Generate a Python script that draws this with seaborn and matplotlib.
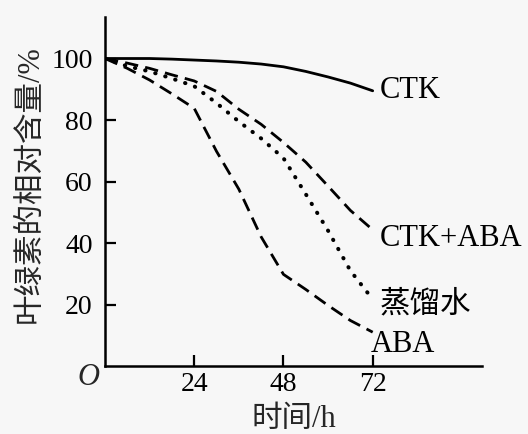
import numpy as np
import pandas as pd
import matplotlib
matplotlib.use("Agg")
import matplotlib.pyplot as plt
import seaborn as sns

time_h = [0, 6, 12, 18, 24, 30, 36, 42, 48, 54, 60, 66, 72]
ctk = [100, 100, 100, 99.8, 99.5, 99.2, 98.8, 98.2, 97.3, 95.8, 94, 92, 89.5]
ctk_aba = [100, 98.5, 96.8, 94.7, 92.7, 89.3, 83.5, 78.6, 72.7, 66.3, 58.5, 50.6, 44.3]
water = [100, 97.5, 95.8, 93.5, 91, 85.5, 79.5, 74, 67.6, 55.9, 44, 31, 21.7]
aba = [100, 96.8, 93, 88.5, 83.8, 69.8, 57.5, 42, 29.8, 24.9, 19.7, 14.8, 11]
series_names = ["CTK", "CTK+ABA", "蒸馏水", "ABA"]
x_ticks = [24, 48, 72]
y_ticks = [20, 40, 60, 80, 100]

sns.set_style("ticks")
plt.rcParams["font.family"] = ["Liberation Serif", "Noto Sans CJK SC", "DejaVu Sans"]

bg = "#f7f7f7"
fig = plt.figure(figsize=(5.28, 4.34), dpi=100, facecolor=bg)
ax = fig.add_axes([105 / 528, 1 - 366 / 434, (482 - 105) / 528, (366 - 17) / 434])
ax.set_facecolor(bg)

styles = {
    "CTK": dict(linestyle="-", lw=2.0),
    "CTK+ABA": dict(linestyle=(0, (4.8, 2.6)), lw=2.0),
    "蒸馏水": dict(linestyle=(0, (0.1, 2.5)), lw=2.9, dash_capstyle="round"),
    "ABA": dict(linestyle=(0, (4.8, 2.6)), lw=2.0),
}
for name, vals in zip(series_names, [ctk, ctk_aba, water, aba]):
    sns.lineplot(x=time_h, y=vals, ax=ax, color="black", **styles[name])

ax.set_xlim(0, 101.4)
ax.set_ylim(0, 113.5)
for s in ["top", "right"]:
    ax.spines[s].set_visible(False)
for s in ["left", "bottom"]:
    ax.spines[s].set_linewidth(1.8)
    ax.spines[s].set_color("black")

ax.set_xticks(x_ticks)
ax.set_yticks(y_ticks)
ax.set_xticklabels([str(t) for t in x_ticks])
ax.set_yticklabels([str(t) for t in y_ticks])
ax.tick_params(axis="both", direction="in", length=8, width=1.6, labelsize=20, colors="black")
ax.tick_params(axis="y", pad=9)
ax.tick_params(axis="x", pad=4)

ax.set_xlabel("时间/h", fontsize=22, labelpad=6)
ax.set_ylabel("叶绿素的相对含量/%", fontsize=22)
ax.yaxis.set_label_coords(-0.16, 0.52)

ax.text(-4.5, -3.8, "O", fontsize=22, style="italic", ha="center", va="center")

label_kw = dict(fontsize=22, ha="left", va="center", color="black")
ax.text(74, 89.5, "CTK", **label_kw)
ax.text(74, 41.5, "CTK+ABA", **label_kw)
ax.text(74, 20, "蒸馏水", **label_kw)
ax.text(71.6, 7, "ABA", **label_kw)

fig.savefig("out.png", dpi=100, facecolor=bg)
